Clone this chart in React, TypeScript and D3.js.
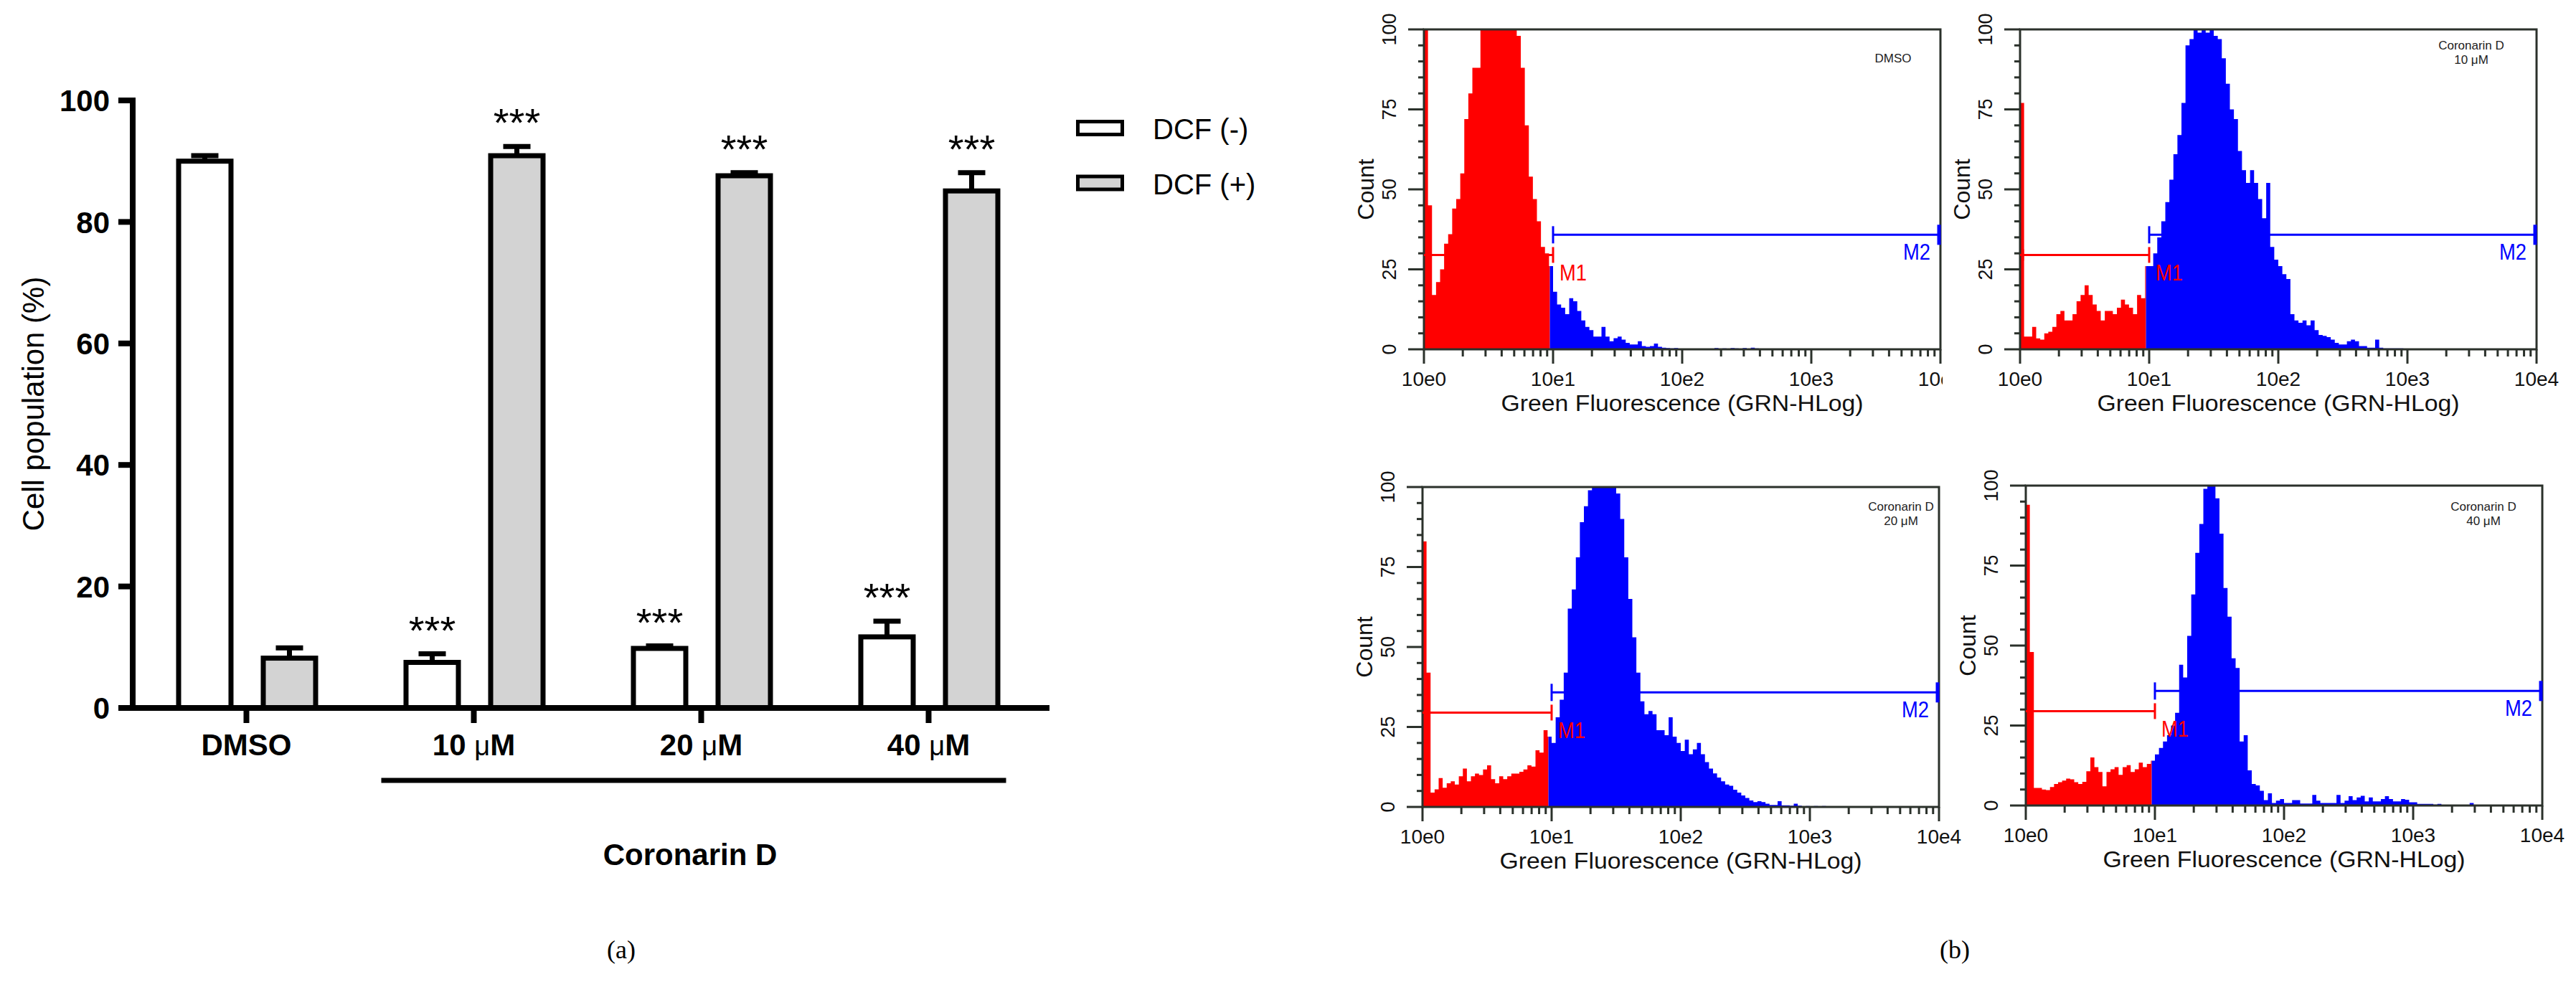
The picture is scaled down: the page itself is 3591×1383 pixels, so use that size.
import * as d3 from 'd3'

const W = 3591
const H = 1383

// ---------- (a) DCF bar chart ----------
const groups = ['DMSO', '10 μM', '20 μM', '40 μM']
const series = ['DCF (-)', 'DCF (+)']
const seriesFill = ['#ffffff', '#d3d3d3']
const dcfNeg = [90.0, 7.5, 9.8, 11.7]
const dcfNegErr = [0.9, 1.4, 0.4, 2.6]
const dcfPos = [8.2, 90.9, 87.6, 85.1]
const dcfPosErr = [1.7, 1.5, 0.5, 3.0]
const negStars = ['', '***', '***', '***']
const posStars = ['', '***', '***', '***']
const yTicks = [0, 20, 40, 60, 80, 100]
const treatment = 'Coronarin D'

// ---------- (b) flow cytometry histograms (32 channels per decade) ----------
const binsPerDecade = 32
const histDMSO = [
  100, 45, 17, 21, 25, 33, 36, 44, 47, 55, 72, 80, 88, 88, 100, 100, 100, 100, 100, 100,
  100, 100, 100, 98, 88, 70, 54, 47, 40, 32, 30, 26, 18, 14, 13, 11, 16, 15, 12, 9,
  7, 6, 4, 4, 7, 4, 2.5, 3.5, 4, 3, 2, 1.5, 1.5, 2.5, 1, 0.8, 1, 1.8, 0.8, 0.5,
  0.4, 0.3, 0.4, 0.2, 0, 0, 0, 0, 0, 0, 0, 0, 0.4, 0, 0.3, 0, 0.4, 0.3, 0, 0.4,
  0, 0.5, 0.3,
]
const hist10 = [
  77, 4, 4, 7, 3.4, 3, 5, 5.5, 7, 11, 12, 9, 9, 11, 15, 17, 20, 17, 14, 12,
  9, 12, 12, 11, 13, 15.5, 14, 13, 11, 17, 16, 26, 26, 30, 35, 40, 46, 53, 61, 67,
  77, 95, 97, 100, 99, 100, 99, 100, 98, 97, 91, 83, 75, 72, 62, 56, 52, 56, 52, 47,
  41, 52, 32, 28, 26, 23.5, 22, 11, 9, 8.3, 9, 7.5, 9, 6, 4.5, 4.2, 3.8, 3, 2, 1.5,
  1.5, 2.5, 3, 2.5, 1, 1, 0.5, 0.5, 3, 0.5, 0.3, 0.3, 0.3, 0.3, 0.3, 0.2,
]
const hist20 = [
  83, 42, 4.5, 5.5, 9, 6, 7.4, 8, 7, 9.6, 12, 8, 9.6, 10.4, 10, 11.7, 13, 8.7, 7.4, 9.6,
  8.7, 9.6, 10.4, 10.4, 11, 11.7, 13, 12.6, 17.7, 17, 24, 22, 20, 28, 33.5, 42, 62, 68, 78, 89,
  94, 99, 100, 100, 100, 100, 100, 100, 98, 90, 78, 65, 53, 42, 33, 29, 30, 29, 24, 24,
  22.4, 28, 22, 20, 17.5, 21, 16.5, 18, 20, 16.5, 14, 12, 10.5, 9.2, 8, 7, 6.6, 5.4, 4.5, 3.6,
  2.8, 2, 1.5, 1.8, 1.5, 1, 0.6, 0.6, 1.8, 0.5, 0.5, 0.4, 1, 0.4, 0, 0.3, 0, 0.3, 0, 0.3,
]
const hist40 = [
  94, 48, 5.5, 5.5, 5, 4.8, 5.8, 6.7, 7.3, 7.8, 8.4, 8.2, 7.3, 6.7, 7.4, 10.7, 15, 12, 10.5, 6,
  10.5, 11.3, 12, 9.6, 12, 12.6, 10.5, 11.3, 13.4, 12, 13, 14, 16, 18, 20, 22, 25, 29, 44, 40,
  53, 66, 79, 88, 99, 100, 100, 96, 85, 68, 59, 46, 43, 20, 22, 11, 6.7, 6.3, 4.6, 1.7,
  3.8, 0.8, 1.5, 2, 0.8, 0.8, 1.7, 1.7, 0.6, 0.6, 0.6, 3.3, 1.5, 0.8, 0.8, 0.8, 0.8, 3.3, 0.8, 1.5,
  2.9, 1.7, 2.5, 3, 1.3, 2.5, 1.3, 1.3, 2, 2.9, 2, 1.3, 1.3, 2, 1.8, 1, 1, 0.5, 0.5, 0.5,
  0.5, 0.3, 0.5, 0, 0, 0, 0, 0, 0, 0, 0.8,
]
const histCounts = [histDMSO, hist10, hist20, hist40]
const histNotes = [['DMSO'], ['Coronarin D', '10 μM'], ['Coronarin D', '20 μM'], ['Coronarin D', '40 μM']]
const countTicks = [0, 25, 50, 75, 100]
const decades = [1, 10, 100, 1000, 10000]
const decadeLabels = ['10e0', '10e1', '10e2', '10e3', '10e4']
const gateM1 = [1, 10]
const gateM2 = [10, 10000]
const levelM1 = 29.5
const levelM2 = 35.8
const colorSplit = 9.45

const RED = '#ff0000'
const BLUE = '#0000ff'
const FRAME = '#2b312b'

const panelLayout = [
  { left: 1985, top: 41, noteX: 654, noteY: 40, cover: false },
  { left: 2816, top: 41, noteX: 629, noteY: 22, cover: true },
  { left: 1983, top: 679, noteX: 667, noteY: 27, cover: false },
  { left: 2824, top: 677, noteX: 638, noteY: 29, cover: false },
]
const PW = 720
const PH = 446

const BarChart = () => {
  const y = d3.scaleLinear().domain([0, 100]).range([987, 140])
  const x = d3.scaleBand().domain(groups).range([185, 1453])
  const dx = d3.scalePoint().domain(series).range([-58, 60])
  const barW = 73
  const cx = (g: string) => (x(g) as number) + x.bandwidth() / 2

  const bars = groups.flatMap((g, i) => [
    { g, s: series[0], v: dcfNeg[i], e: dcfNegErr[i], star: negStars[i], fill: seriesFill[0] },
    { g, s: series[1], v: dcfPos[i], e: dcfPosErr[i], star: posStars[i], fill: seriesFill[1] },
  ])

  return (
    <g className='bar-chart'>
      {bars.map(b => {
        const bx = cx(b.g) + (dx(b.s) as number)
        const top = y(b.v)
        const cap = y(b.v + b.e)
        return (
          <g key={b.g + b.s}>
            <line x1={bx} x2={bx} y1={top} y2={cap} stroke='#000' strokeWidth={7} />
            <line x1={bx - 19} x2={bx + 19} y1={cap} y2={cap} stroke='#000' strokeWidth={7} />
            <rect x={bx - barW / 2} y={top} width={barW} height={y(0) - top}
              fill={b.fill} stroke='#000' strokeWidth={7} />
            {b.star && (
              <text x={bx} y={cap - 14} textAnchor='middle' fontSize={56}>{b.star}</text>
            )}
          </g>
        )
      })}

      {/* axes */}
      <line x1={185} x2={185} y1={136} y2={991} stroke='#000' strokeWidth={8} />
      <line x1={181} x2={1463} y1={y(0)} y2={y(0)} stroke='#000' strokeWidth={8} />
      {yTicks.map(t => (
        <g key={t} transform={`translate(0,${y(t)})`}>
          <line x1={165} x2={185} stroke='#000' strokeWidth={8} />
          <text x={153} dy='0.36em' textAnchor='end' fontSize={42} fontWeight='bold'>{t}</text>
        </g>
      ))}
      {groups.map(g => {
        const parts = g.split('μ')
        return (
          <g key={g} transform={`translate(${cx(g)},0)`}>
            <line y1={y(0)} y2={1008} stroke='#000' strokeWidth={8} />
            <text y={1053} textAnchor='middle' fontSize={42} fontWeight='bold'>
              {parts[0]}
              {parts.length > 1 && <tspan fontWeight='normal' fontSize={38}>μ</tspan>}
              {parts[1]}
            </text>
          </g>
        )
      })}
      <text transform='translate(46,563) rotate(-90)' dy='0.35em' textAnchor='middle' fontSize={42}>
        Cell population (%)
      </text>

      {/* treatment bracket */}
      <line x1={cx(groups[1]) - 129} x2={cx(groups[3]) + 108} y1={1088} y2={1088}
        stroke='#000' strokeWidth={7} />
      <text x={962} y={1206} textAnchor='middle' fontSize={42} fontWeight='bold'>{treatment}</text>

      {/* legend */}
      {series.map((s, i) => (
        <g key={s} transform={`translate(0,${i * 76.5})`}>
          <rect x={1502.5} y={169.5} width={62} height={18} fill={seriesFill[i]} stroke='#000' strokeWidth={5} />
          <text x={1607} y={194} fontSize={40}>{s}</text>
        </g>
      ))}
    </g>
  )
}

const Histogram = ({ idx }: { idx: number }) => {
  const { left, top, noteX, noteY, cover } = panelLayout[idx]
  const counts = histCounts[idx]
  const x = d3.scaleLog().domain([1, 10000]).range([left, left + PW])
  const y = d3.scaleLinear().domain([0, 100]).range([top + PH, top])
  const pts: [number, number][] = counts.map((c, k) => [Math.pow(10, k / binsPerDecade), c])
  pts.push([Math.pow(10, counts.length / binsPerDecade), 0])
  const area = d3.area<[number, number]>()
    .x(d => x(d[0]))
    .y0(y(0))
    .y1(d => y(Math.min(d[1], 100)))
    .curve(d3.curveStepAfter)
  const path = area(pts) ?? ''
  const split = x(colorSplit)
  const minor = d3.range(0, 4).flatMap(d => d3.range(2, 10).map(m => m * Math.pow(10, d)))
  const minorCount = d3.range(0, 101, 5).filter(v => v % 25 !== 0)
  const notes = histNotes[idx]

  return (
    <g className='histogram'>
      {cover && <rect x={left - 108} y={0} width={W - left + 108} height={620} fill='#fff' />}
      <defs>
        <clipPath id={`m1-${idx}`}><rect x={left} y={top} width={split - left} height={PH} /></clipPath>
        <clipPath id={`m2-${idx}`}><rect x={split} y={top} width={left + PW - split} height={PH} /></clipPath>
      </defs>
      <path d={path} fill={RED} clipPath={`url(#m1-${idx})`} />
      <path d={path} fill={BLUE} clipPath={`url(#m2-${idx})`} />

      {/* frame and ticks */}
      <rect x={left} y={top} width={PW} height={PH} fill='none' stroke={FRAME} strokeWidth={3} />
      {countTicks.map(t => (
        <g key={t}>
          <line x1={left - 22} x2={left} y1={y(t)} y2={y(t)} stroke={FRAME} strokeWidth={3} />
          <text transform={`translate(${left - 48},${y(t)}) rotate(-90)`} dy='0.35em'
            textAnchor='middle' fontSize={27} fill='#111'>{t}</text>
        </g>
      ))}
      {minorCount.map(t => (
        <line key={t} x1={left - 8} x2={left} y1={y(t)} y2={y(t)} stroke={FRAME} strokeWidth={3} />
      ))}
      {decades.map((d, i) => (
        <g key={d}>
          <line x1={x(d)} x2={x(d)} y1={y(0)} y2={y(0) + 20} stroke={FRAME} strokeWidth={3} />
          <text x={x(d)} y={y(0) + 51} textAnchor='middle' fontSize={28} fill='#111'>{decadeLabels[i]}</text>
        </g>
      ))}
      {minor.map(m => (
        <line key={m} x1={x(m)} x2={x(m)} y1={y(0)} y2={y(0) + 10} stroke={FRAME} strokeWidth={3} />
      ))}
      <text x={left + PW / 2} y={y(0) + 86} textAnchor='middle' fontSize={31} fill='#111'
        textLength={505} lengthAdjust='spacingAndGlyphs'>Green Fluorescence (GRN-HLog)</text>
      <text transform={`translate(${left - 81},${y(50)}) rotate(-90)`} dy='0.35em'
        textAnchor='middle' fontSize={32} fill='#111'>Count</text>

      {/* gates */}
      <g stroke={RED} strokeWidth={3}>
        <line x1={x(gateM1[0])} x2={x(gateM1[1])} y1={y(levelM1)} y2={y(levelM1)} />
        <line x1={x(gateM1[0]) + 4} x2={x(gateM1[0]) + 4} y1={y(levelM1) - 8} y2={y(levelM1) + 8} />
        <line x1={x(gateM1[1])} x2={x(gateM1[1])} y1={y(levelM1) - 11} y2={y(levelM1) + 11} />
      </g>
      <text x={x(gateM1[1]) + 9} y={y(21.5)} fontSize={32} fill={RED}
        textLength={38} lengthAdjust='spacingAndGlyphs'>M1</text>
      <g stroke={BLUE} strokeWidth={3}>
        <line x1={x(gateM2[0])} x2={x(gateM2[1])} y1={y(levelM2)} y2={y(levelM2)} />
        <line x1={x(gateM2[0])} x2={x(gateM2[0])} y1={y(levelM2) - 12} y2={y(levelM2) + 12} />
        <line x1={x(gateM2[1]) - 2} x2={x(gateM2[1]) - 2} y1={y(levelM2) - 14} y2={y(levelM2) + 14} strokeWidth={5} />
      </g>
      <text x={left + PW - 14} y={y(28)} textAnchor='end' fontSize={32} fill={BLUE}
        textLength={38} lengthAdjust='spacingAndGlyphs'>M2</text>

      {notes.map((n, i) => (
        <text key={n} x={left + noteX} y={top + noteY + i * 20 + 6} textAnchor='middle'
          fontSize={17} fill='#222'>{n}</text>
      ))}
    </g>
  )
}

export default function App() {
  return (
    <>
      <style>{'body{margin:0}'}</style>
      <svg width={W} height={H} style={{ display: 'block', background: '#fff' }}
        fontFamily="'Liberation Sans', Arial, sans-serif">
        <BarChart />
        {panelLayout.map((_, i) => <Histogram key={i} idx={i} />)}
        <text x={866} y={1336} textAnchor='middle' fontSize={36} fontFamily="'Liberation Serif', serif">(a)</text>
        <text x={2725} y={1336} textAnchor='middle' fontSize={36} fontFamily="'Liberation Serif', serif">(b)</text>
      </svg>
    </>
  )
}
